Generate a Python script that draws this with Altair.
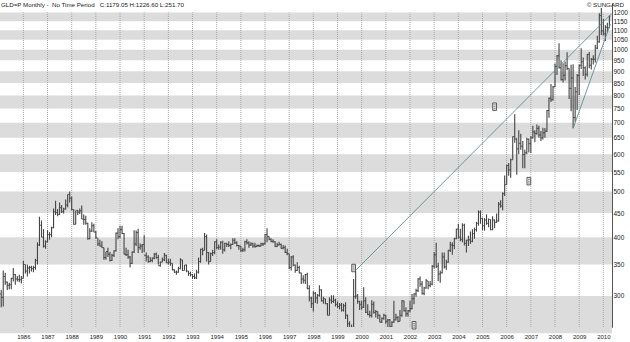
import altair as alt
import pandas as pd

# ---- monthly OHLC, Jan 1985 .. Apr 2010 (month index 0 = Jan 1985) ----
opens = [
    309,303,298,330,321,316,317,327,333,326,325,325,  # 1985
    327,350,339,344,345,343,345,357,385,424,400,383,  # 1986
    391,405,405,419,453,451,447,462,453,459,468,493,  # 1987
    484,458,426,456,452,455,437,436,428,397,412,423,  # 1988
    410,398,387,383,380,362,373,368,357,366,374,408,  # 1989
    401,415,407,368,367,363,352,372,387,409,380,383,  # 1990
    386,366,363,355,357,361,368,362,348,354,358,366,  # 1991
    353,354,352,341,337,337,343,358,340,349,339,335,  # 1992
    333,330,328,337,355,377,375,401,371,355,369,371,  # 1993
    391,380,381,390,376,388,386,384,386,394,389,384,  # 1994
    383,375,376,391,389,385,387,383,382,384,383,387,  # 1995
    387,405,401,396,392,391,382,385,386,379,380,371,  # 1996
    369,345,363,349,340,345,336,326,324,333,311,297,  # 1997
    289,304,297,301,309,293,296,289,273,294,292,294,  # 1998
    288,285,287,280,286,273,262,256,255,299,300,292,  # 1999
    288,284,293,277,274,273,288,277,278,273,264,269,  # 2000
    273,265,267,258,264,267,270,265,273,293,279,275,  # 2001
    279,282,296,303,308,326,318,304,312,323,316,318,  # 2002
    347,367,347,334,336,363,346,354,375,385,384,397,  # 2003
    416,400,396,424,388,394,395,392,407,415,428,452,  # 2004
    438,423,435,428,436,415,435,430,433,470,466,495,  # 2005
    517,568,556,584,654,646,616,633,624,599,604,646,  # 2006
    632,650,669,664,681,659,650,666,672,743,789,783,  # 2007
    834,922,971,916,864,883,925,913,828,871,718,814,  # 2008
    882,927,943,916,887,978,927,955,955,1008,1040,1182,  # 2009
    1097,1081,1117,1113,  # 2010
]
highs = [
    310,309,340,336,322,320,328,344,334,331,333,331,
    356,350,350,348,348,348,360,390,442,434,416,394,
    414,410,421,460,478,459,474,468,462,481,493,500,
    488,458,455,457,460,467,447,444,429,418,430,427,
    412,398,395,392,380,372,380,372,369,375,409,418,
    423,423,408,380,376,365,373,414,413,417,388,387,
    404,371,366,363,362,370,371,367,355,362,370,367,
    360,360,352,342,340,346,361,358,349,350,339,338,
    334,335,341,362,378,380,408,405,372,371,376,392,
    396,386,392,393,389,389,392,388,398,398,392,385,
    383,380,393,396,392,390,389,389,386,386,389,389,
    406,418,402,398,396,392,389,391,388,385,384,378,
    369,365,366,350,354,348,336,332,334,336,316,299,
    307,306,303,316,310,299,296,290,298,301,301,296,
    292,290,290,289,291,274,265,261,326,339,303,293,
    293,313,298,288,279,294,292,280,278,274,270,275,
    273,268,268,265,293,275,272,280,294,293,284,280,
    293,303,304,311,327,330,323,314,326,323,323,349,
    372,389,353,340,371,371,358,376,391,390,399,417,
    427,417,428,427,395,403,411,416,419,431,456,456,
    440,439,447,438,436,443,436,449,475,479,498,541,
    570,575,587,654,730,650,675,663,640,613,650,648,
    656,690,675,694,690,672,683,682,745,792,846,838,
    935,975,1033,950,936,944,988,913,929,932,834,888,
    930,1007,963,921,980,989,961,973,1025,1071,1195,1226.6,
    1162,1128,1141,1182,
]
lows = [
    298,284,285,317,309,310,310,322,317,322,321,319,
    327,335,330,335,338,337,341,350,383,400,380,378,
    390,395,400,418,446,443,446,450,449,458,463,474,
    456,425,426,446,448,437,425,425,395,396,410,410,
    397,383,382,380,358,358,363,355,356,363,373,396,
    398,406,368,365,360,345,351,370,383,370,376,370,
    372,355,353,354,354,359,360,350,346,354,356,353,
    350,348,340,336,333,336,342,339,340,337,331,330,
    326,326,326,335,353,366,375,355,350,355,365,368,
    377,376,376,369,373,381,381,377,385,387,382,376,
    372,372,373,386,380,383,380,380,381,381,382,383,
    386,390,394,390,389,381,381,384,378,377,370,366,
    342,340,347,336,339,335,318,319,318,310,292,283,
    278,290,289,299,292,289,288,273,273,289,290,285,
    283,281,278,278,268,257,252,251.7,254,296,289,280,
    281,283,276,273,270,270,275,270,268,264,263,267,
    262,255,255,255,263,266,264,265,271,278,271,271,
    277,281,288,299,306,314,302,301,311,310,313,316,
    343,344,323,320,335,343,341,353,372,367,377,396,
    397,392,390,384,371,383,387,390,397,411,423,427,
    414,413,425,420,414,414,418,429,432,462,456,489,
    517,540,535,584,635,543,600,613,560,560,600,605,
    604,648,636,660,650,640,645,650,669,717,775,780,
    834,884,913,860,852,861,905,786,740,681,703,745,
    801,910,880,865,878,914,908,931,940,1003,1035,1075,
    1072,1044,1088,1113,
]
closes = [
    303,298,330,321,316,317,327,333,326,325,325,327,
    350,339,344,345,343,345,357,385,424,400,383,391,
    405,405,419,453,451,447,462,453,459,468,493,484,
    458,426,456,452,455,437,436,428,397,412,423,410,
    400,387,383,380,362,373,368,357,366,374,408,401,
    415,407,368,367,363,352,372,387,409,380,383,386,
    366,363,355,357,361,368,362,348,354,358,366,353,
    354,352,341,337,337,343,358,340,349,339,335,333,
    330,328,337,355,377,375,401,371,355,369,371,391,
    380,381,390,376,388,386,384,386,394,389,384,383,
    375,376,391,389,385,387,383,382,384,383,387,387,
    405,401,396,392,391,382,385,386,379,380,371,369,
    345,363,349,340,345,336,326,324,333,311,297,289,
    304,297,301,309,293,296,289,273,294,292,294,288,
    285,287,280,286,273,262,256,255,299,300,292,288,
    284,293,277,274,273,288,277,278,273,264,269,273,
    265,267,258,264,267,270,265,273,293,279,275,279,
    282,296,303,308,326,318,304,312,323,316,318,347,
    367,347,334,336,363,346,354,375,385,384,397,416,
    400,396,424,388,394,395,392,407,415,428,452,438,
    423,435,428,436,415,435,430,433,470,466,495,517,
    568,556,584,654,646,616,633,624,599,604,646,632,
    650,669,664,681,659,650,666,672,743,789,783,834,
    922,971,916,864,883,925,913,828,871,718,814,882,
    927,943,916,887,978,927,955,955,1008,1040,1182,1097,
    1081,1117,1113,1179.05,
]

first_year = 1985
year_ticks = list(range(1986, 2011))
price_ticks = [300, 350, 400, 450, 500, 550, 600, 650, 700, 750, 800, 850,
               900, 950, 1000, 1050, 1100, 1150, 1200]
band_lo = [250, 350, 450, 550, 650, 750, 850, 950, 1050, 1150]
band_hi = [300, 400, 500, 600, 700, 800, 900, 1000, 1100, 1200]

# trend lines: start (month index, price) -> end (month index, price)
trend_start_t = [177, 285]
trend_start_p = [340, 681]
trend_end_t = [304, 303.5]
trend_end_p = [1192, 1134]

# event markers (month index, price)
event_t = [176, 246, 263, 206]
event_p = [344, 757, 526, 260]

title_text = "GLD=P Monthly -\u00a0\u00a0No Time Period\u00a0\u00a0\u00a0C:1179.05 H:1226.60 L:251.70"
brand_text = "\u00a9 SUNGARD"

n = len(closes)
df = pd.DataFrame({"t": list(range(n)), "open": opens, "high": highs,
                   "low": lows, "close": closes})
df["tl"] = df["t"] - 0.5
df["tr"] = df["t"] + 0.5

grid_df = pd.DataFrame({"t": [(y - first_year) * 12 for y in year_ticks]})
grid_df["lo"] = 257.8
grid_df["hi"] = 1200
band_df = pd.DataFrame({"lo": band_lo, "hi": band_hi})
trend_df = pd.DataFrame({"t0": trend_start_t, "p0": trend_start_p,
                         "t1": trend_end_t, "p1": trend_end_p})
event_df = pd.DataFrame({"t": event_t, "p": event_p})

FONT = "Liberation Sans"
xs = alt.Scale(domain=[0.4, 304.3], nice=False, zero=False)
ys = alt.Scale(type="log", domain=[257.8, 1257], nice=False, zero=False)

x_axis = alt.Axis(values=[(y - first_year) * 12 for y in year_ticks],
                  labelExpr=f"{first_year} + round(datum.value / 12)",
                  title=None, grid=False, tickSize=3, tickColor="#555555",
                  domainColor="#555555", labelFont=FONT, labelFontSize=6,
                  labelColor="#222222", labelPadding=3, labelFlush=False,
                  labelOverlap=False)
y_axis = alt.Axis(values=price_ticks, orient="right", title=None, grid=False,
                  ticks=False, domainColor="#555555", labelFont=FONT,
                  labelFontSize=6.5, labelColor="#222222", labelPadding=1,
                  labelFlush=False, labelOverlap=False, format="d")

bands = alt.Chart(band_df).mark_rect(color="#dcdcdc").encode(
    x=alt.value(0), x2=alt.value(612),
    y=alt.Y("lo:Q", scale=ys, axis=y_axis), y2="hi:Q")

grid = alt.Chart(grid_df).mark_rule(color="#a6a6a6", strokeDash=[1, 1],
                                    strokeWidth=1).encode(
    x=alt.X("t:Q", scale=xs, axis=x_axis),
    y=alt.Y("lo:Q", scale=ys, axis=y_axis), y2="hi:Q")

BAR = "#444444"
hl = alt.Chart(df).mark_rule(color=BAR, strokeWidth=1.1, clip=True).encode(
    x=alt.X("t:Q", scale=xs, axis=x_axis),
    y=alt.Y("low:Q", scale=ys, axis=y_axis), y2="high:Q")
op = alt.Chart(df).mark_rule(color=BAR, strokeWidth=1, clip=True).encode(
    x=alt.X("tl:Q", scale=xs, axis=x_axis), x2="t:Q",
    y=alt.Y("open:Q", scale=ys, axis=y_axis))
cl = alt.Chart(df).mark_rule(color=BAR, strokeWidth=1, clip=True).encode(
    x=alt.X("t:Q", scale=xs, axis=x_axis), x2="tr:Q",
    y=alt.Y("close:Q", scale=ys, axis=y_axis))

trends = alt.Chart(trend_df).mark_rule(color="#5f8f8f", strokeWidth=0.9,
                                       clip=True).encode(
    x=alt.X("t0:Q", scale=xs, axis=x_axis), x2="t1:Q",
    y=alt.Y("p0:Q", scale=ys, axis=y_axis), y2="p1:Q")

events = alt.Chart(event_df).mark_point(
    shape="M-0.5,-1L0.5,-1L0.5,1L-0.5,1Z", size=56, filled=True,
    fill="#f4f4f4", stroke="#333333", strokeWidth=0.8, opacity=1).encode(
    x=alt.X("t:Q", scale=xs, axis=x_axis),
    y=alt.Y("p:Q", scale=ys, axis=y_axis))
events_in = alt.Chart(event_df).mark_point(
    shape="M-0.25,-0.5L0.25,-0.5M-0.25,0L0.25,0M-0.25,0.5L0.25,0.5",
    size=56, stroke="#333333", strokeWidth=0.6, opacity=1).encode(
    x=alt.X("t:Q", scale=xs, axis=x_axis),
    y=alt.Y("p:Q", scale=ys, axis=y_axis))

title = alt.Chart(pd.DataFrame({"label": [title_text]})).mark_text(
    align="left", baseline="middle", font=FONT, fontSize=6.2,
    color="#222222").encode(x=alt.value(1), y=alt.value(2), text="label:N")
brand = alt.Chart(pd.DataFrame({"label": [brand_text]})).mark_text(
    align="right", baseline="middle", font=FONT, fontSize=6.2,
    color="#222222").encode(x=alt.value(624), y=alt.value(1.5), text="label:N")

chart = alt.layer(bands, grid, hl, op, cl, trends, events, events_in,
                  title, brand).properties(
    width=612, height=324, autosize="none",
    padding={"left": 0, "top": 3, "right": 18, "bottom": 15},
    background="white",
).configure_view(stroke=None)

chart.save("out.html", embed_options={"renderer": "svg", "actions": False})
